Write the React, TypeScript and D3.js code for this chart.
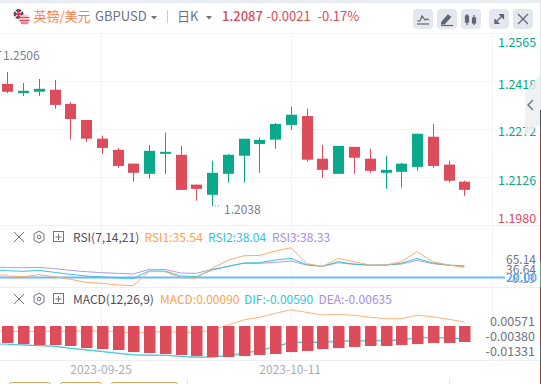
import React from "react";
import * as d3 from "d3";

const opens = [1.2410,1.2382,1.2386,1.2392,1.2349,1.2300,1.2243,1.2209,1.2167,1.2136,1.2197,1.2194,1.2103,1.2072,1.2136,1.2191,1.2227,1.2240,1.2285,1.2312,1.2182,1.2136,1.2218,1.2182,1.2139,1.2142,1.2157,1.2249,1.2164,1.2112];
const highs = [1.2446,1.2413,1.2425,1.2422,1.2355,1.2300,1.2252,1.2215,1.2167,1.2224,1.2261,1.2221,1.2103,1.2176,1.2197,1.2240,1.2246,1.2291,1.2340,1.2334,1.2224,1.2218,1.2218,1.2212,1.2191,1.2170,1.2258,1.2288,1.2176,1.2115];
const lows = [1.2382,1.2373,1.2373,1.2334,1.2240,1.2233,1.2197,1.2154,1.2112,1.2121,1.2136,1.2087,1.2054,1.2039,1.2109,1.2109,1.2139,1.2212,1.2270,1.2173,1.2124,1.2136,1.2136,1.2139,1.2090,1.2094,1.2145,1.2154,1.2109,1.2069];
const closes = [1.2386,1.2389,1.2395,1.2346,1.2303,1.2243,1.2215,1.2160,1.2139,1.2206,1.2203,1.2087,1.2090,1.2139,1.2194,1.2243,1.2239,1.2288,1.2316,1.2179,1.2148,1.2221,1.2185,1.2145,1.2148,1.2167,1.2258,1.2160,1.2115,1.2087];

const rsi1 = [22.0,21.0,24.0,21.0,16.9,12.3,10.8,8.2,7.2,28.7,28.7,19.5,18.4,33.8,46.1,53.2,53.7,60.4,65.5,41.0,36.9,49.1,44.0,38.9,38.9,44.0,59.4,44.0,38.9,35.3];
const rsi2 = [30.2,29.2,30.7,27.6,24.6,22.0,20.5,18.9,18.4,29.7,29.7,22.0,21.0,31.2,36.9,42.0,42.5,46.6,49.1,39.4,36.9,44.0,40.4,38.9,38.9,41.5,49.1,42.0,38.9,37.4];
const rsi3 = [34.8,34.8,35.3,33.3,30.7,28.7,27.1,26.1,25.1,32.2,32.2,26.6,26.1,32.2,36.9,41.5,41.5,43.0,45.0,38.9,36.9,42.5,39.9,38.4,38.9,40.4,46.1,41.0,38.4,37.4];

const hist = [-.0106,-.0113,-.0119,-.0119,-.0125,-.0138,-.0144,-.0150,-.0163,-.0169,-.0175,-.0181,-.0188,-.0194,-.0194,-.0188,-.0181,-.0175,-.0163,-.0156,-.0144,-.0138,-.0131,-.0125,-.0125,-.0119,-.0113,-.0106,-.0106,-.0100];
const macdOrange = [-.0033,-.0035,-.0033,-.0033,-.0033,-.0031,-.0033,-.0035,-.0046,-.0038,-.0035,-.0040,-.0040,-.0025,.0006,.0038,.0054,.0079,.0102,.0085,.0069,.0073,.0067,.0054,.0046,.0046,.0067,.0058,.0042,.0025];
const dif = [-.0115,-.0119,-.0123,-.0127,-.0140,-.0150,-.0160,-.0171,-.0181,-.0183,-.0183,-.0190,-.0196,-.0194,-.0185,-.0171,-.0154,-.0129,-.0102,-.0102,-.0104,-.0096,-.0094,-.0094,-.0092,-.0088,-.0075,-.0073,-.0077,-.0081];
const dea = [-.0113,-.0117,-.0121,-.0125,-.0138,-.0148,-.0158,-.0169,-.0179,-.0181,-.0182,-.0188,-.0194,-.0192,-.0183,-.0169,-.0152,-.0127,-.0106,-.0098,-.0098,-.0092,-.0090,-.0090,-.0088,-.0084,-.0071,-.0069,-.0073,-.0077];

const priceTicks = [1.2565, 1.2418, 1.2272, 1.2126, 1.198];
const xDates = [["2023-09-25", 6], ["2023-10-11", 18]] as const;
const stripes = [["#e3e6ea",0,110],["#4a5560",110,130],["#a33a3a",130,262],["#5fa35f",262,287],["#a33a3a",287,345],["#55606c",345,362],["#a33a3a",362,384]] as const;

const RED = "#dc4c5a";
const GREEN = "#0aa98c";
const GRID = "#f3f4f7";
const FONT = "'Noto Sans CJK SC','Noto Sans',sans-serif";

const x = d3.scaleLinear().domain([0, 29]).range([7.3, 464.3]);
const yP = d3.scaleLinear().domain([1.2565, 1.198]).range([33, 225]);
const yR = d3.scaleLinear().domain([20, 65.14]).range([277.3, 248]);
const yM = d3.scaleLinear().domain([0, -0.01]).range([326, 342]);

const mkLine = (y: (v: number) => number) =>
  d3.line<number>().x((_, i) => x(i)).y((d) => y(d));

const Txt = (p: any) => <text fontFamily={FONT} {...p} />;

function PanelIcons({ y }: { y: number }) {
  return (
    <g stroke="#6f7480" fill="none" strokeWidth={1}>
      <path d={`M14 ${y - 5} l10 10 M24 ${y - 5} l-10 10`} />
      <path d={`M39 ${y - 6} l5 3 v6 l-5 3 l-5 -3 v-6 z`} />
      <circle cx={39} cy={y} r={1.8} />
      <rect x={53.5} y={y - 5.5} width={10} height={10} />
      <path d={`M58.5 ${y - 3} v6 M55.5 ${y} h6`} />
    </g>
  );
}

export default function App() {
  const w = Math.round(x(1) - x(0)) - 5;
  const lineR = mkLine(yR);
  const lineM = mkLine(yM);
  return (
    <svg width={541} height={384} style={{ position: "fixed", left: 0, top: 0, background: "#fff" }}>
      <rect x={0} y={0} width={541} height={3} fill="#e9ecf1" />
      {/* header */}
      <g>
        <circle cx={18.5} cy={14} r={4.8} fill="#2c3a6b" />
        <path d="M14 10 l9 8 M23 10 l-9 8" stroke="#fff" strokeWidth={1.2} />
        <path d="M18.5 9 v10 M13.7 14 h10" stroke="#d8344a" strokeWidth={1.6} />
        <circle cx={24.5} cy={19.5} r={5.2} fill="#f4c6cb" />
        <path d="M19.8 17.5 h9.4 M19.6 20.5 h9.8 M20.8 23 h7.4" stroke="#d8475a" strokeWidth={1} />
        <Txt x={33.5} y={21} fontSize={13} fill="#ff7d4a">英镑/美元</Txt>
        <Txt x={95} y={21} fontSize={13} fill="#6d7280">GBPUSD</Txt>
        <path d="M151 16 h6 l-3 3.5 z" fill="#6d7280" />
        <rect x={167} y={10} width={1} height={13} fill="#c8ccd3" />
        <Txt x={177} y={21} fontSize={13} fill="#6d7280">日K</Txt>
        <path d="M206 16 h6 l-3 3.5 z" fill="#6d7280" />
        <Txt x={222} y={21} fontSize={13} fontWeight={500} fill="#dc4c5a">1.2087</Txt>
        <Txt x={266.5} y={21} fontSize={13} fill="#dc4c5a">-0.0021</Txt>
        <Txt x={317.5} y={21} fontSize={13} fill="#dc4c5a">-0.17%</Txt>
        {[413, 437, 461, 489, 513].map((bx) => (
          <rect key={bx} x={bx} y={9} width={20} height={20} rx={4} fill="#e4e7ee" />
        ))}
        <g stroke="#5f6672" strokeWidth={1.2} fill="none">
          <path d="M417 21 l3 0 l2 -5 l3 4 l2 -1 l2 1" />
          <path d="M417 24 h12" />
          <path d="M442 22 l6 -7 l2.5 2 l-6 7 l-3 0 z" fill="#5f6672" />
          <path d="M441 25.5 h12" />
          <path d="M467 14 v11 M474 15 v10" />
          <rect x={465.5} y={16} width={3} height={6} fill="#5f6672" />
          <rect x={472.5} y={18} width={3} height={5} fill="#5f6672" />
          <path d="M495 23 l8 -8" />
          <path d="M499 14.5 h4.5 v4.5 M495 19 v4.5 h4.5" fill="#5f6672" />
          <path d="M518 14 l10 10 M528 14 l-10 10" />
        </g>
      </g>

      {/* grid */}
      <g stroke={GRID} strokeWidth={1}>
        {priceTicks.slice(1).map((t) => (
          <line key={t} x1={0} x2={492} y1={Math.round(yP(t)) + 0.5} y2={Math.round(yP(t)) + 0.5} />
        ))}
        <line x1={0} x2={540} y1={33.5} y2={33.5} />
        <line x1={101.5} x2={101.5} y1={33} y2={360} />
        <line x1={291.5} x2={291.5} y1={33} y2={360} />
        <line x1={492.5} x2={492.5} y1={33} y2={360} />
        <line x1={0} x2={540} y1={225.5} y2={225.5} stroke="#eceef2" />
        <line x1={0} x2={540} y1={287.5} y2={287.5} stroke="#eceef2" />
        <line x1={0} x2={540} y1={360.5} y2={360.5} stroke="#eceef2" />
      </g>

      {/* candles */}
      {opens.map((o, i) => {
        const c = closes[i];
        const col = c < o ? RED : GREEN;
        const cx = Math.round(x(i)) + 0.5;
        const top = yP(Math.max(o, c));
        const bot = yP(Math.min(o, c));
        return (
          <g key={i}>
            <line x1={cx} x2={cx} y1={yP(highs[i])} y2={yP(lows[i])} stroke={col} strokeWidth={1} />
            <rect x={cx - 5.5} y={top} width={11} height={Math.max(bot - top, 2)} fill={col} />
          </g>
        );
      })}
      <path d="M0 51.5 h1.5" stroke="#7b808c" />
      <Txt x={3} y={60} fontSize={12} fill="#7b808c">1.2506</Txt>
      <path d="M212 206 h9" stroke="#7b808c" strokeDasharray="1 2" />
      <Txt x={224} y={214} fontSize={12} fill="#7b808c">1.2038</Txt>

      {/* price axis */}
      {priceTicks.map((t, i) => (
        <Txt key={t} x={498} y={[47, 89, 136, 185, 223][i]} fontSize={12.5} fill={i === 4 ? RED : GREEN}>
          {t.toFixed(4)}
        </Txt>
      ))}

      {/* handle */}
      <path d="M525 93 L540 75 V125 L525 135 Z" fill="#eceef1" opacity={0.85} />
      <path d="M533 100 l-5 5 l5 5" stroke="#6b7280" strokeWidth={1.4} fill="none" />

      {/* RSI panel */}
      <PanelIcons y={237} />
      <Txt x={73} y={242} fontSize={12} fill="#4a4f5a">RSI(7,14,21)</Txt>
      <Txt x={144.5} y={242} fontSize={12} fill="#ff9f4a">RSI1:35.54</Txt>
      <Txt x={208} y={242} fontSize={12} fill="#2fc4de">RSI2:38.04</Txt>
      <Txt x={272} y={242} fontSize={12} fill="#a98de0">RSI3:38.33</Txt>
      <line x1={0} x2={505} y1={277.5} y2={277.5} stroke="#6cb8ff" strokeWidth={1.8} />
      <path d={`M0 ${yR(35.3)} H${x(0)}`} stroke="#b49ae6" />
      <path d={`M0 ${yR(30.7)} H${x(0)}`} stroke="#38c6dc" />
      <path d={`M0 ${yR(23.5)} H${x(0)}`} stroke="#ffab6b" />
      <path d={lineR(rsi3) ?? ""} fill="none" stroke="#b49ae6" strokeWidth={1} />
      <path d={lineR(rsi2) ?? ""} fill="none" stroke="#38c6dc" strokeWidth={1} />
      <path d={lineR(rsi1) ?? ""} fill="none" stroke="#ffab6b" strokeWidth={1} />
      <Txt x={506} y={264} fontSize={12} fill="#6f7480">65.14</Txt>
      <Txt x={506} y={274} fontSize={12} fill="#6f7480">36.64</Txt>
      <Txt x={535} y={283} fontSize={12} textAnchor="end" fill="#9a9fa9">8.13</Txt>
      <Txt x={506} y={282} fontSize={12} fontWeight={500} fill="#3ea3ff">20.00</Txt>

      {/* MACD panel */}
      <PanelIcons y={299} />
      <Txt x={73} y={304} fontSize={12} fill="#4a4f5a">MACD(12,26,9)</Txt>
      <Txt x={160} y={304} fontSize={12} fill="#ff9f4a">MACD:0.00090</Txt>
      <Txt x={244} y={304} fontSize={12} fill="#2fc4de">DIF:-0.00590</Txt>
      <Txt x={318.5} y={304} fontSize={12} fill="#a98de0">DEA:-0.00635</Txt>
      <path d={`M0 ${yM(-0.0031)} H${x(0)}`} stroke="#ffb27a" />
      <path d={`M0 ${yM(-0.0113)} H${x(0)}`} stroke="#38c6dc" />
      <path d={lineM(macdOrange) ?? ""} fill="none" stroke="#ffb27a" strokeWidth={1} />
      <path d={lineM(dea) ?? ""} fill="none" stroke="#b3e8f0" strokeWidth={1.4} />
      <path d={lineM(dif) ?? ""} fill="none" stroke="#38c6dc" strokeWidth={1} />
      {hist.map((h, i) => (
        <rect key={i} x={Math.round(x(i)) - 5} y={yM(0)} width={w + 0.5} height={yM(h) - yM(0)} fill={RED} />
      ))}
      <Txt x={535} y={326} fontSize={12.5} textAnchor="end" fill="#6f7480">0.00571</Txt>
      <Txt x={535} y={341} fontSize={12.5} textAnchor="end" fill="#6f7480">-0.00380</Txt>
      <Txt x={535} y={356} fontSize={12.5} textAnchor="end" fill="#6f7480">-0.01331</Txt>

      {/* x axis */}
      {xDates.map(([d, i]) => (
        <Txt key={d} x={x(i) - 0.8} y={374} fontSize={12} textAnchor="middle" fill="#a9adb8">{d}</Txt>
      ))}

      {/* bottom button tops */}
      {[[9, 41], [60, 41], [111, 66]].map(([bx, bw]) => (
        <rect key={bx} x={bx + 0.5} y={382.5} width={bw} height={8} rx={2} fill="#fff" stroke="#cfa565" />
      ))}
      <line x1={187.5} x2={187.5} y1={378} y2={384} stroke="#e6e8ec" />
      <line x1={449.5} x2={449.5} y1={378} y2={384} stroke="#e6e8ec" />

      {/* right edge strip */}
      {stripes.map(([c, a, b]) => (
        <rect key={a} x={540} y={a} width={1} height={b - a} fill={c} />
      ))}
    </svg>
  );
}
